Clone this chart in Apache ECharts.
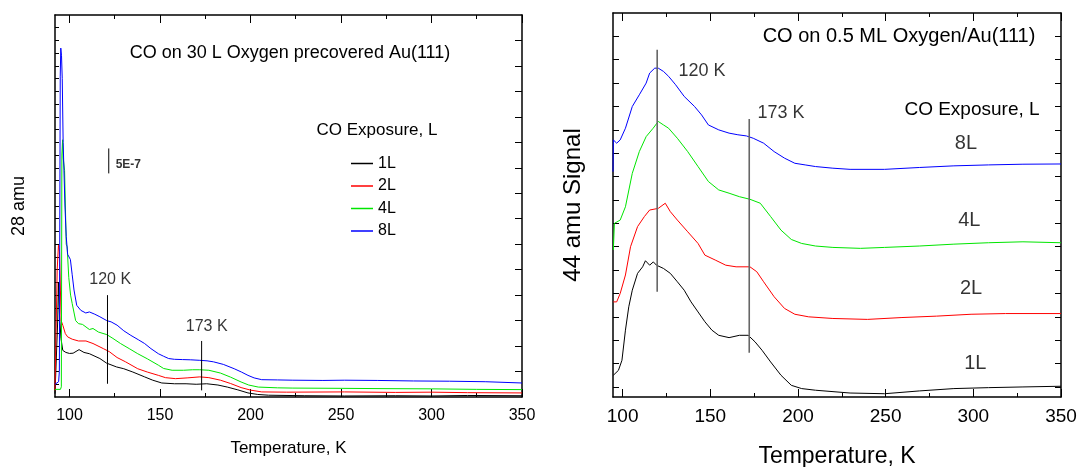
<!DOCTYPE html>
<html>
<head>
<meta charset="utf-8">
<script src="https://cdn.jsdelivr.net/npm/echarts@6/dist/echarts.min.js"></script>
<style>html,body{margin:0;padding:0;background:#fff;}#chart{width:1080px;height:467px;}</style>
</head>
<body>
<div id="chart"></div>
<script>
// ---------- DATA ----------
// Left panel: CO on 30 L Oxygen precovered Au(111), 28 amu  [T (K), signal (arb.)]
const left1L = [[92,0.13],[93,0.2],[93.5,3.0],[93.9,4.5],[94.5,3.2],[95.3,2.3],[96.3,1.83],[98,1.75],[100,1.71],[102,1.72],[105.3,1.86],[108,1.75],[111,1.7],[116.8,1.51],[120.5,1.33],[126,1.18],[130,1.11],[135,0.98],[141.5,0.79],[146,0.66],[151,0.55],[158,0.52],[164.4,0.52],[170,0.5],[175.8,0.52],[182,0.47],[187.2,0.39],[193,0.28],[198.6,0.16],[204,0.1],[210,0.07],[230,0.05],[252,0.04],[280,0.05],[300,0.04],[320,0.06],[350,0.05]];
const left2L = [[92,0.26],[92.6,0.3],[93.2,5.0],[93.9,5.96],[94.5,5.7],[95,4.2],[95.4,3.0],[96.4,2.8],[97.7,2.49],[99,2.36],[101.5,2.27],[105,2.2],[109.1,2.2],[113,2.1],[118.7,1.9],[122,1.78],[126.3,1.55],[131,1.38],[137.7,1.11],[143,0.98],[149.1,0.85],[153,0.76],[158.6,0.72],[165,0.75],[172,0.79],[177,0.76],[183.4,0.66],[189,0.53],[194.8,0.37],[200,0.27],[206.2,0.2],[220,0.19],[252,0.2],[280,0.18],[300,0.19],[320,0.17],[350,0.16]];
const left4L = [[92,0.3],[95,0.3],[95.5,0.4],[95.8,9.5],[96.2,10.1],[96.5,9.4],[97.3,8.9],[98.2,6.0],[98.7,5.9],[99.6,4.7],[100.6,4.0],[101.5,3.67],[103.4,3.0],[105,2.88],[107.2,2.85],[111,2.65],[113,2.69],[116,2.55],[120.6,2.45],[124,2.3],[128.2,2.1],[133,1.9],[137.7,1.7],[143,1.5],[149.1,1.25],[152,1.12],[156.7,1.05],[163,1.05],[168,1.07],[172,1.07],[177,1.05],[183.4,0.94],[189,0.78],[194.8,0.59],[199,0.47],[204.3,0.39],[215,0.36],[223.4,0.35],[250,0.34],[271,0.33],[300,0.32],[325,0.3],[350,0.29]];
const left8L = [[92,0.5],[94,0.6],[94.4,1.0],[94.9,12.6],[95.2,13.7],[95.6,13.4],[96.0,12.5],[96.5,10.0],[97.5,7.5],[98.2,6.3],[99,5.6],[100.5,5.4],[101.5,4.8],[102.5,4.2],[104,3.6],[106.3,3.4],[109,3.3],[111,3.34],[114,3.25],[116.8,3.15],[120.6,3.0],[123,2.95],[126.3,2.82],[130,2.6],[133.9,2.42],[138,2.25],[141.5,2.1],[145,1.9],[149.1,1.7],[152,1.6],[154.8,1.51],[158,1.48],[162.4,1.47],[167,1.46],[172,1.44],[176,1.42],[179.6,1.38],[185,1.28],[191,1.11],[195,0.98],[198.6,0.85],[202,0.75],[206.2,0.68],[215,0.67],[223.4,0.66],[240,0.65],[252,0.66],[270,0.65],[290,0.63],[310,0.62],[330,0.6],[350,0.55]];

// Right panel: CO on 0.5 ML Oxygen/Au(111), 44 amu (offset traces)
const right1L = [[94.7,0.5],[97.6,0.71],[99.6,1.14],[101.6,2.43],[103.5,3.43],[105.5,4.14],[108.5,4.86],[111.4,5.14],[113,5.4],[115.4,5.21],[117.5,5.35],[119.3,5.21],[123.3,5.07],[127.2,4.86],[131.2,4.5],[135.1,4.14],[139,3.64],[143,3.21],[146.9,2.79],[150.9,2.43],[154.8,2.21],[160.7,2.11],[166.6,2.21],[171.6,2.21],[175.5,1.93],[179.5,1.57],[184.4,1.07],[190.3,0.5],[196.2,0.07],[202.1,-0.07],[210,-0.14],[229.7,-0.26],[249.4,-0.29],[269.2,-0.17],[288.9,-0.07],[308.6,-0.03],[328.3,0],[350,0.03]];
const right2L = [[94.7,3.64],[96.6,3.64],[98.6,4.0],[101.6,4.79],[104.5,6.0],[108.5,6.86],[112.4,7.29],[115.4,7.57],[120.3,7.64],[124.3,7.86],[127.2,7.5],[131.2,7.14],[137.1,6.64],[143,6.14],[146.9,5.64],[152.8,5.43],[158.8,5.21],[164.7,5.14],[172.6,5.14],[176.5,4.93],[180.4,4.5],[186.4,3.86],[192.3,3.36],[198.2,3.11],[206.1,3.0],[219.9,2.93],[239.6,2.89],[259.3,2.97],[279,3.03],[298.7,3.11],[318.4,3.14],[350,3.14]];
const right4L = [[94.7,5.86],[95.3,7.0],[98.6,7.14],[101.6,7.71],[105.5,9.14],[109.5,10.07],[113.4,10.71],[117.4,11.07],[120.3,11.36],[123.3,11.21],[126.2,11.07],[131.2,10.64],[137.1,10.07],[143,9.43],[148.9,8.79],[154.8,8.43],[160.7,8.29],[166.6,8.14],[172.6,8.03],[178.5,7.86],[184.4,7.29],[190.3,6.71],[196.2,6.31],[202.1,6.14],[210,6.03],[219.9,5.97],[235.6,5.93],[249.4,5.97],[269.2,6.03],[288.9,6.11],[308.6,6.17],[328.3,6.21],[350,6.17]];
const right8L = [[94.5,9.21],[94.7,10.57],[96.6,10.43],[98.6,10.57],[101.6,11.07],[105.5,12.0],[109.5,12.5],[113.4,13.0],[115.4,13.43],[118.3,13.64],[120.3,13.64],[123.3,13.5],[126.2,13.29],[130.2,12.93],[135.1,12.43],[141,12.0],[145,11.64],[148.9,11.21],[154.8,11.0],[160.7,10.86],[165.7,10.79],[170.6,10.74],[174.5,10.64],[180.4,10.43],[186.4,10.07],[192.3,9.79],[198.2,9.57],[204.1,9.5],[210,9.43],[219.9,9.36],[229.7,9.31],[249.4,9.31],[269.2,9.39],[288.9,9.46],[308.6,9.5],[328.3,9.53],[350,9.54]];

// Annotation lines [T, y]
const leftPeak120 = [[121,0.52],[121,4.0]];
const leftPeak173 = [[173,0.26],[173,2.2]];
const leftScaleBar = [[121.7,8.78],[121.7,9.76]];
const rightPeak120 = [[119.7,4.07],[119.7,14.43]];
const rightPeak173 = [[172.2,1.46],[172.2,11.46]];

// Annotation texts [T, y, text]
const leftTexts = [[122.5,4.61,'120 K'],[175.8,2.75,'173 K']];
const leftScaleText = [[132.5,9.13,'5E-7']];
const rightPeakTexts = [[145.3,13.53,'120 K'],[190.3,11.71,'173 K']];
const rightSeriesTexts = [[295.8,10.43,'8L'],[297.7,7.11,'4L'],[298.7,4.21,'2L'],[301.1,1.0,'1L']];

const seriesNames = ['1L','2L','4L','8L'];
const seriesColors = ['#000000','#ff0000','#00e600','#0000ff'];

// Axis ticks / labels
const xMajor = [100,150,200,250,300,350];
const xMinor = [125,175,225,275,325];
const leftYTicksLeftSide = [0.5,1,1.5,2,2.5,3,3.5,4,4.5,5,5.5,6,6.5,7,7.5,8,8.5,9,9.5,10,10.5,11,11.5,12,12.5,13,13.5,14,14.5];
const leftYTicksRightSide = [1,2,3,4,5,6,7,8,9,10,11,12,13,14];
const rightYTicks = [0,1,2,3,4,5,6,7,8,9,10,11,12,13,14,15];

// ---------- CHART ----------
const FONT = "'Liberation Sans', Arial, Helvetica, sans-serif";
const chart = echarts.init(document.getElementById('chart'), null, {renderer:'canvas'});

function xAxesFor(grid, min, max, labelSize, labelMargin, name, nameSize, nameGap) {
  const base = {type:'value', gridIndex:grid, min:min, max:max, splitLine:{show:false}};
  return [
    Object.assign({}, base, {position:'bottom',
      axisLine:{show:true, onZero:false, lineStyle:{color:'#000', width:1.5}},
      axisTick:{show:true, inside:true, length:8, customValues:xMajor, lineStyle:{color:'#000', width:1}},
      axisLabel:{show:true, customValues:xMajor, fontSize:labelSize, color:'#000', fontFamily:FONT, margin:labelMargin},
      name:name, nameLocation:'middle', nameGap:nameGap,
      nameTextStyle:{fontSize:nameSize, color:'#000', fontFamily:FONT}}),
    Object.assign({}, base, {position:'bottom',
      axisLine:{show:false, onZero:false},
      axisTick:{show:true, inside:true, length:4, customValues:xMinor, lineStyle:{color:'#000', width:1}},
      axisLabel:{show:false}}),
    Object.assign({}, base, {position:'top',
      axisLine:{show:true, onZero:false, lineStyle:{color:'#000', width:1.5}},
      axisTick:{show:true, inside:true, length:8, customValues:xMajor, lineStyle:{color:'#000', width:1}},
      axisLabel:{show:false}}),
    Object.assign({}, base, {position:'top',
      axisLine:{show:false, onZero:false},
      axisTick:{show:true, inside:true, length:4, customValues:xMinor, lineStyle:{color:'#000', width:1}},
      axisLabel:{show:false}})
  ];
}

const xAxis = xAxesFor(0, 92, 350, 16, 11, 'Temperature, K', 17, 43)
  .concat(xAxesFor(1, 94.5, 350, 19, 10, 'Temperature, K', 23, 48));

const yAxis = [
  {type:'value', gridIndex:0, position:'left', min:0, max:15, splitLine:{show:false},
   axisLine:{show:true, onZero:false, lineStyle:{color:'#000', width:1.5}},
   axisTick:{show:true, inside:true, length:4, customValues:leftYTicksLeftSide, lineStyle:{color:'#000'}},
   axisLabel:{show:false},
   name:'28 amu', nameLocation:'middle', nameRotate:90, nameGap:27,
   nameTextStyle:{fontSize:18, color:'#000', fontFamily:FONT}},
  {type:'value', gridIndex:0, position:'right', min:0, max:15, splitLine:{show:false},
   axisLine:{show:true, onZero:false, lineStyle:{color:'#000', width:1.5}},
   axisTick:{show:true, inside:true, length:7, customValues:leftYTicksRightSide, lineStyle:{color:'#000'}},
   axisLabel:{show:false}},
  {type:'value', gridIndex:1, position:'left', min:-0.43, max:16, splitLine:{show:false},
   axisLine:{show:true, onZero:false, lineStyle:{color:'#000', width:1.5}},
   axisTick:{show:true, inside:true, length:6, customValues:rightYTicks, lineStyle:{color:'#000'}},
   axisLabel:{show:false},
   name:'44 amu Signal', nameLocation:'middle', nameRotate:90, nameGap:28,
   nameTextStyle:{fontSize:24, color:'#000', fontFamily:FONT}},
  {type:'value', gridIndex:1, position:'right', min:-0.43, max:16, splitLine:{show:false},
   axisLine:{show:true, onZero:false, lineStyle:{color:'#000', width:1.5}},
   axisTick:{show:true, inside:true, length:6, customValues:rightYTicks, lineStyle:{color:'#000'}},
   axisLabel:{show:false}}
];

function lineSeries(name, data, color, xi, yi, width) {
  return {type:'line', name:name, data:data, xAxisIndex:xi, yAxisIndex:yi,
    symbol:'none', showSymbol:false, smooth:false, silent:true,
    lineStyle:{color:color, width:width||1}, itemStyle:{color:color}, z:3};
}
function textSeries(items, xi, yi, size, bold) {
  return {type:'scatter', xAxisIndex:xi, yAxisIndex:yi, symbolSize:1, silent:true,
    itemStyle:{color:'rgba(0,0,0,0)'},
    data:items.map(d => ({value:[d[0], d[1]], label:{formatter:d[2]}})),
    label:{show:true, position:'inside', color:'#000', fontSize:size, fontFamily:FONT, fontWeight: bold ? 'bold' : 'normal'}, z:5};
}

const leftData = [left1L, left2L, left4L, left8L];
const rightData = [right1L, right2L, right4L, right8L];
const series = [];
leftData.forEach((d,i) => series.push(lineSeries(seriesNames[i], d, seriesColors[i], 0, 0)));
rightData.forEach((d,i) => series.push(lineSeries('R' + seriesNames[i], d, seriesColors[i], 4, 2)));
series.push(lineSeries('m1', leftPeak120, '#000', 0, 0, 1));
series.push(lineSeries('m2', leftPeak173, '#000', 0, 0, 1));
series.push(lineSeries('m3', leftScaleBar, '#000', 0, 0, 1));
series.push(lineSeries('m4', rightPeak120, '#666', 4, 2, 1.6));
series.push(lineSeries('m5', rightPeak173, '#666', 4, 2, 1.6));
series.push(textSeries(leftTexts, 0, 0, 16, false));
series.push(textSeries(leftScaleText, 0, 0, 12, true));
series.push(textSeries(rightPeakTexts, 4, 2, 18, false));
series.push(textSeries(rightSeriesTexts, 4, 2, 20, false));

const option = {
  animation:false,
  backgroundColor:'#ffffff',
  grid:[
    {left:55, right:558, top:15, bottom:70, containLabel:false, outerBoundsMode:'none'},
    {left:613, right:19, top:13, bottom:70, containLabel:false, outerBoundsMode:'none'}
  ],
  xAxis:xAxis,
  yAxis:yAxis,
  legend:{
    data:seriesNames, orient:'vertical', left:351, top:155.5, padding:0,
    itemWidth:22, itemHeight:14, itemGap:6.5, selectedMode:false,
    icon:'path://M0,6 L22,6 L22,7.5 L0,7.5 Z',
    textStyle:{fontSize:16, color:'#000', fontFamily:FONT}
  },
  graphic:[
    {type:'text', x:290, y:53, style:{text:'CO on 30 L Oxygen precovered Au(111)', fontSize:18, fontFamily:FONT, fill:'#000', align:'center', verticalAlign:'middle'}},
    {type:'text', x:377, y:130, style:{text:'CO Exposure, L', fontSize:17, fontFamily:FONT, fill:'#000', align:'center', verticalAlign:'middle'}},
    {type:'text', x:899, y:36, style:{text:'CO on 0.5 ML Oxygen/Au(111)', fontSize:20, fontFamily:FONT, fill:'#000', align:'center', verticalAlign:'middle'}},
    {type:'text', x:972, y:110, style:{text:'CO Exposure, L', fontSize:19, fontFamily:FONT, fill:'#000', align:'center', verticalAlign:'middle'}}
  ],
  series:series
};
chart.setOption(option);
</script>
</body>
</html>
